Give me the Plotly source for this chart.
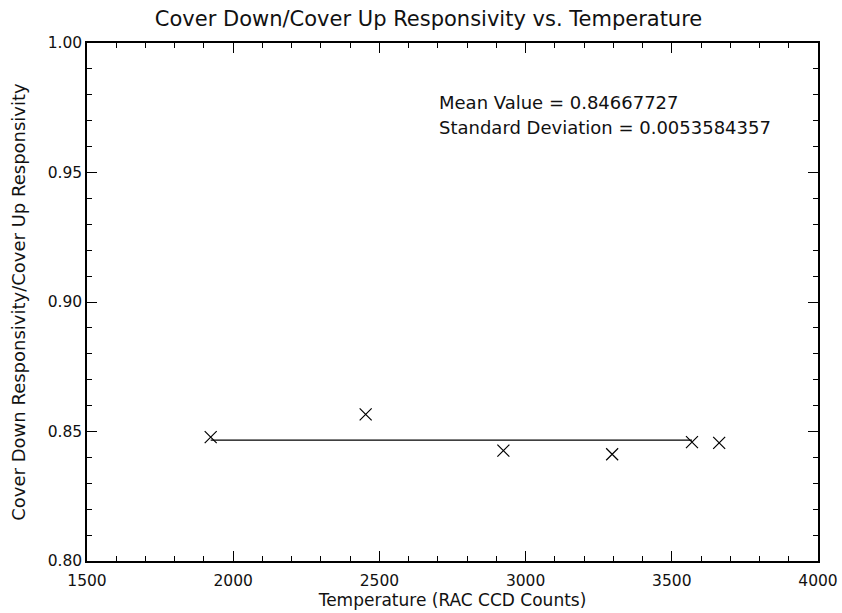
import plotly.graph_objects as go

temperature = [1923, 2453, 2924, 3296, 3569, 3662]
ratio = [0.8478, 0.8566, 0.8426, 0.8412, 0.8459, 0.8456]
mean_value = 0.84667727
std_dev = 0.0053584357
mean_x = [1923, 3569]

FONT = "DejaVu Sans"
INK = "#111"
fig = go.Figure()
fig.add_trace(go.Scatter(x=temperature, y=ratio, mode="markers",
                         marker=dict(symbol="x-thin", size=12, line=dict(width=1.2, color="black"), color="black"),
                         showlegend=False))
fig.add_trace(go.Scatter(x=mean_x, y=[mean_value, mean_value], mode="lines",
                         line=dict(color="black", width=1.2), showlegend=False))

axis_common = dict(showgrid=False, zeroline=False, showline=True, linecolor="black", linewidth=1.5,
                   mirror="allticks", ticks="inside", tickcolor="black", tickwidth=1.2, ticklen=10,
                   automargin=False,
                   tickfont=dict(family=FONT, size=15.5, color=INK))
fig.update_xaxes(range=[1500, 4000], dtick=500, tick0=1500, ticklabelstandoff=5,
                 minor=dict(ticks="inside", dtick=100, ticklen=5, tickcolor="black", tickwidth=1.2),
                 title=dict(text="Temperature (RAC CCD Counts)", font=dict(family=FONT, size=17, color=INK), standoff=4),
                 **axis_common)
fig.update_yaxes(range=[0.80, 1.00], dtick=0.05, tick0=0.8, tickformat=".2f",
                 minor=dict(ticks="inside", dtick=0.01, ticklen=5, tickcolor="black", tickwidth=1.2),
                 title=dict(text="Cover Down Responsivity/Cover Up Responsivity", font=dict(family=FONT, size=18, color=INK), standoff=17),
                 **axis_common)

fig.add_annotation(x=0.479, y=0.886, xref="paper", yref="paper", xanchor="left", yanchor="middle",
                   text=f"Mean Value = {mean_value:.8f}", showarrow=False,
                   font=dict(family=FONT, size=18, color=INK))
fig.add_annotation(x=0.479, y=0.836, xref="paper", yref="paper", xanchor="left", yanchor="middle",
                   text=f"Standard Deviation = {std_dev:.10f}", showarrow=False,
                   font=dict(family=FONT, size=18, color=INK))

fig.update_layout(width=842, height=613, margin=dict(l=87, r=24, t=43, b=52, autoexpand=False),
                  plot_bgcolor="white", paper_bgcolor="white",
                  title=dict(text="Cover Down/Cover Up Responsivity vs. Temperature", x=0.509, xanchor="center",
                             y=0.97, yanchor="middle", font=dict(family=FONT, size=21, color=INK)))
fig.write_html("out.html")
